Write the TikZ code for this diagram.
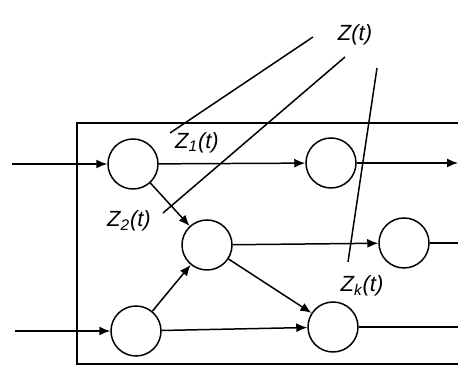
\documentclass[tikz,border=0pt]{standalone}
\usepackage{fontspec}
\setmainfont{Liberation Sans}
\usepackage{tikz}
\usetikzlibrary{arrows.meta,calc}

\begin{document}
\begin{tikzpicture}[>={Latex[length=2.2mm,width=1.8mm]},line width=0.85pt,
  place/.style={circle,draw,minimum size=1cm,inner sep=0pt},
  lab/.style={font=\fontsize{12.5}{14}\selectfont\itshape,inner sep=1pt}]
  \clip (0,0) rectangle (9.16,7.34);
  % box
  \draw (9.4,4.88) -- (1.54,4.88) -- (1.54,0.06) -- (9.4,0.06);
  % places
  \node[place] (A) at (2.66,4.06) {};
  \node[place] (B) at (6.62,4.08) {};
  \node[place] (C) at (4.14,2.44) {};
  \node[place] (D) at (8.08,2.48) {};
  \node[place] (E) at (2.72,0.72) {};
  \node[place] (F) at (6.66,0.80) {};
  % labels
  \node[lab] (Z)  at (7.10,6.64) {Z(t)};
  \node[lab] (Z1) at (3.94,4.48) {Z\textsubscript{1}(t)};
  \node[lab] (Z2) at (2.58,2.92) {Z\textsubscript{2}(t)};
  \node[lab] (Zk) at (7.24,1.62) {Z\textsubscript{k}(t)};
  % ends
  \coordinate (inA) at (0.24,4.06);
  \coordinate (inE) at (0.30,0.72);
  \coordinate (outB) at (9.16,4.08);
  \coordinate (outD) at (9.4,2.48);
  \coordinate (outF) at (9.4,0.80);
  \coordinate (z1s) at (6.26,6.60);
  \coordinate (z1e) at (3.40,4.68);
  \coordinate (z2s) at (6.90,6.20);
  \coordinate (z2e) at (3.26,3.08);
  \coordinate (zks) at (7.54,5.98);
  \coordinate (zke) at (6.96,2.10);
  \draw[->] (inA) -- (A);
  \draw[->] (inE) -- (E);
  \draw[->] (A) -- (B);
  \draw[->] (B) -- (outB);
  \draw[->] (A) -- (C);
  \draw[->] (E) -- (C);
  \draw[->] (C) -- (D);
  \draw[->] (C) -- (F);
  \draw[->] (E) -- (F);
  \draw (D) -- (outD);
  \draw (F) -- (outF);
  \draw (z1s) -- (z1e);
  \draw (z2s) -- (z2e);
  \draw (zks) -- (zke);
\end{tikzpicture}
\end{document}
